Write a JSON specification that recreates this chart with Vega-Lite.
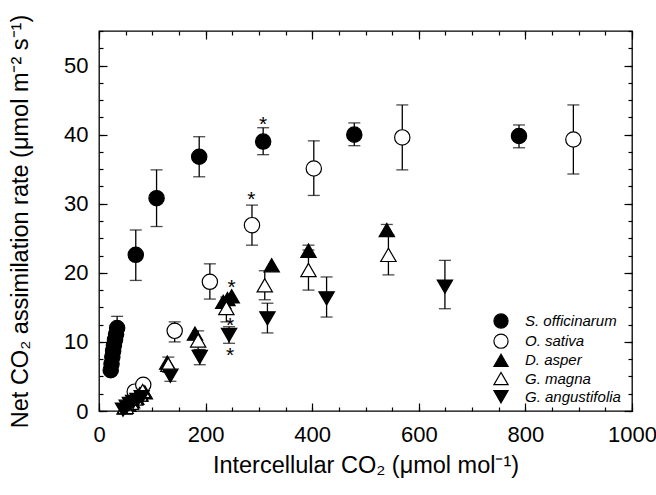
{
  "$schema": "https://vega.github.io/schema/vega-lite/v6.json",
  "width": 533,
  "height": 380,
  "autosize": {"type": "none"},
  "padding": {"left": 99, "top": 31, "right": 24, "bottom": 84},
  "background": "white",
  "config": {
    "view": {"stroke": "black", "strokeWidth": 1.3},
    "axis": {
      "domain": false,
      "grid": false,
      "tickColor": "black",
      "tickWidth": 1.2,
      "labelColor": "black",
      "titleColor": "black",
      "labelFont": "Liberation Sans",
      "titleFont": "Liberation Sans",
      "labelFontSize": 22,
      "titleFontSize": 23.5,
      "titleFontWeight": "normal",
      "labelFlush": false,
      "labelOverlap": false,
      "labelBound": false,
      "format": "d"
    },
    "legend": {
      "title": null, "orient": "none", "legendX": 394, "legendY": 282, "padding": 0,
      "labelFont": "Liberation Sans", "labelFontSize": 15, "labelFontStyle": "italic", "labelColor": "black",
      "symbolSize": 200, "symbolStrokeWidth": 1.2, "rowPadding": 0.2, "labelOffset": 16
    }
  },
  "datasets": {
    "pts": [
      {"s": "S. officinarum", "x": 22, "y": 5.9},
      {"s": "S. officinarum", "x": 23.5, "y": 6.8},
      {"s": "S. officinarum", "x": 25, "y": 7.8},
      {"s": "S. officinarum", "x": 26.5, "y": 8.7},
      {"s": "S. officinarum", "x": 28, "y": 9.5},
      {"s": "S. officinarum", "x": 30, "y": 10.3},
      {"s": "S. officinarum", "x": 32, "y": 11.1},
      {"s": "S. officinarum", "x": 34, "y": 12.0, "lo": 10.4, "hi": 13.7},
      {"s": "S. officinarum", "x": 69, "y": 22.6, "lo": 18.9, "hi": 26.2},
      {"s": "S. officinarum", "x": 108, "y": 30.8, "lo": 26.7, "hi": 34.9},
      {"s": "S. officinarum", "x": 188, "y": 36.8, "lo": 33.9, "hi": 39.7},
      {"s": "S. officinarum", "x": 308, "y": 39.0, "lo": 37.1, "hi": 41.0},
      {"s": "S. officinarum", "x": 479, "y": 40.0, "lo": 38.4, "hi": 41.7},
      {"s": "S. officinarum", "x": 788, "y": 39.8, "lo": 38.1, "hi": 41.4},
      {"s": "O. sativa", "x": 67, "y": 2.8},
      {"s": "O. sativa", "x": 83, "y": 3.8},
      {"s": "O. sativa", "x": 142, "y": 11.6, "lo": 10.0, "hi": 12.9},
      {"s": "O. sativa", "x": 208, "y": 18.7, "lo": 16.2, "hi": 21.3},
      {"s": "O. sativa", "x": 287, "y": 26.9, "lo": 24.0, "hi": 29.8},
      {"s": "O. sativa", "x": 403, "y": 35.1, "lo": 31.2, "hi": 39.1},
      {"s": "O. sativa", "x": 569, "y": 39.6, "lo": 34.9, "hi": 44.3},
      {"s": "O. sativa", "x": 890, "y": 39.3, "lo": 34.3, "hi": 44.3},
      {"s": "D. asper", "x": 48, "y": 0.5},
      {"s": "D. asper", "x": 55, "y": 0.9},
      {"s": "D. asper", "x": 62, "y": 1.4},
      {"s": "D. asper", "x": 70, "y": 1.9},
      {"s": "D. asper", "x": 78, "y": 2.4},
      {"s": "D. asper", "x": 86, "y": 2.7},
      {"s": "D. asper", "x": 128, "y": 7.0},
      {"s": "D. asper", "x": 180, "y": 11.2},
      {"s": "D. asper", "x": 233, "y": 15.8},
      {"s": "D. asper", "x": 241, "y": 16.2},
      {"s": "D. asper", "x": 249, "y": 16.6},
      {"s": "D. asper", "x": 324, "y": 21.1},
      {"s": "D. asper", "x": 393, "y": 23.2, "lo": 22.4, "hi": 24.0},
      {"s": "D. asper", "x": 540, "y": 26.2, "lo": 25.3, "hi": 27.0},
      {"s": "G. magna", "x": 50, "y": 0.6},
      {"s": "G. magna", "x": 60, "y": 1.2},
      {"s": "G. magna", "x": 68, "y": 1.8},
      {"s": "G. magna", "x": 76, "y": 2.4},
      {"s": "G. magna", "x": 82, "y": 2.9},
      {"s": "G. magna", "x": 130, "y": 6.7, "lo": 5.6, "hi": 7.8},
      {"s": "G. magna", "x": 186, "y": 10.2, "lo": 8.8, "hi": 11.6},
      {"s": "G. magna", "x": 239, "y": 14.9, "lo": 12.9, "hi": 16.5},
      {"s": "G. magna", "x": 311, "y": 18.2, "lo": 16.1, "hi": 20.3},
      {"s": "G. magna", "x": 393, "y": 20.4, "lo": 17.5, "hi": 23.3},
      {"s": "G. magna", "x": 543, "y": 22.6, "lo": 19.7, "hi": 25.5},
      {"s": "G. angustifolia", "x": 45, "y": 0.2},
      {"s": "G. angustifolia", "x": 52, "y": 0.6},
      {"s": "G. angustifolia", "x": 58, "y": 1.0},
      {"s": "G. angustifolia", "x": 64, "y": 1.3},
      {"s": "G. angustifolia", "x": 72, "y": 1.6},
      {"s": "G. angustifolia", "x": 80, "y": 2.0},
      {"s": "G. angustifolia", "x": 134, "y": 5.1, "lo": 4.3, "hi": 5.9},
      {"s": "G. angustifolia", "x": 189, "y": 7.8, "lo": 6.7, "hi": 8.9},
      {"s": "G. angustifolia", "x": 244, "y": 11.0, "lo": 9.8, "hi": 12.2},
      {"s": "G. angustifolia", "x": 316, "y": 13.4, "lo": 11.3, "hi": 15.6},
      {"s": "G. angustifolia", "x": 427, "y": 16.3, "lo": 13.6, "hi": 19.4},
      {"s": "G. angustifolia", "x": 649, "y": 18.0, "lo": 14.8, "hi": 21.8}
    ],
    "stars": [
      {"x": 308, "y": 42.3},
      {"x": 286, "y": 31.4},
      {"x": 249, "y": 18.7},
      {"x": 246, "y": 13.2},
      {"x": 246, "y": 8.8}
    ]
  },
  "layer": [
    {
      "data": {"name": "pts"},
      "transform": [{"filter": "datum.hi != null"}],
      "mark": {"type": "rule", "color": "black", "strokeWidth": 1.3},
      "encoding": {
        "x": {"field": "x", "type": "quantitative",
          "scale": {"domain": [0, 1000], "nice": false, "zero": false},
          "axis": {"orient": "bottom", "values": [0, 200, 400, 600, 800, 1000], "tickSize": -8, "labelPadding": 21,
            "title": "Intercellular CO₂ (μmol mol⁻¹)", "titleX": 266.5, "titleY": 54, "titleBaseline": "middle"}},
        "y": {"field": "lo", "type": "quantitative",
          "scale": {"domain": [0, 55], "nice": false, "zero": false},
          "axis": {"orient": "left", "values": [0, 10, 20, 30, 40, 50], "tickSize": -8, "labelPadding": 19,
            "title": "Net CO₂ assimilation rate (μmol m⁻² s⁻¹)", "titleX": -79, "titleY": 190, "titleBaseline": "middle", "titleAngle": -90}},
        "y2": {"field": "hi"}
      }
    },
    {
      "data": {"name": "pts"},
      "transform": [{"filter": "datum.hi != null"}, {"fold": ["lo", "hi"], "as": ["bound", "yv"]}],
      "mark": {"type": "tick", "orient": "horizontal", "color": "black", "size": 12, "thickness": 1.3},
      "encoding": {
        "x": {"field": "x", "type": "quantitative",
          "axis": {"orient": "top", "values": [0, 200, 400, 600, 800, 1000], "tickSize": -8, "labels": false, "title": null}},
        "y": {"field": "yv", "type": "quantitative",
          "axis": {"orient": "right", "values": [0, 10, 20, 30, 40, 50], "tickSize": -8, "labels": false, "title": null}}
      }
    },
    {
      "data": {"name": "pts"},
      "mark": {"type": "point", "filled": true, "strokeWidth": 1.2, "opacity": 1, "size": 235},
      "encoding": {
        "x": {"field": "x", "type": "quantitative",
          "axis": {"orient": "bottom", "values": [0, 50, 100, 150, 200, 250, 300, 350, 400, 450, 500, 550, 600, 650, 700, 750, 800, 850, 900, 950, 1000], "tickSize": -4, "labels": false, "title": null}},
        "y": {"field": "y", "type": "quantitative",
          "axis": {"orient": "left", "values": [0, 2.5, 5, 7.5, 10, 12.5, 15, 17.5, 20, 22.5, 25, 27.5, 30, 32.5, 35, 37.5, 40, 42.5, 45, 47.5, 50, 52.5, 55], "tickSize": -4, "labels": false, "title": null}},
        "shape": {"field": "s", "type": "nominal",
          "scale": {"domain": ["S. officinarum", "O. sativa", "D. asper", "G. magna", "G. angustifolia"], "range": ["circle", "circle", "triangle-up", "triangle-up", "triangle-down"]},
          "legend": {}},
        "fill": {"field": "s", "type": "nominal",
          "scale": {"domain": ["S. officinarum", "O. sativa", "D. asper", "G. magna", "G. angustifolia"], "range": ["black", "white", "black", "white", "black"]},
          "legend": {}},
        "stroke": {"field": "s", "type": "nominal",
          "scale": {"domain": ["S. officinarum", "O. sativa", "D. asper", "G. magna", "G. angustifolia"], "range": ["black", "black", "black", "black", "black"]},
          "legend": {}}
      }
    },
    {
      "data": {"name": "stars"},
      "mark": {"type": "text", "text": "*", "font": "Liberation Sans", "fontSize": 21, "fill": "black", "baseline": "middle", "align": "center", "dy": 6},
      "encoding": {
        "x": {"field": "x", "type": "quantitative",
          "axis": {"orient": "top", "values": [0, 50, 100, 150, 200, 250, 300, 350, 400, 450, 500, 550, 600, 650, 700, 750, 800, 850, 900, 950, 1000], "tickSize": -4, "labels": false, "title": null}},
        "y": {"field": "y", "type": "quantitative",
          "axis": {"orient": "right", "values": [0, 2.5, 5, 7.5, 10, 12.5, 15, 17.5, 20, 22.5, 25, 27.5, 30, 32.5, 35, 37.5, 40, 42.5, 45, 47.5, 50, 52.5, 55], "tickSize": -4, "labels": false, "title": null}}
      }
    }
  ],
  "resolve": {"axis": {"x": "independent", "y": "independent"}}
}
